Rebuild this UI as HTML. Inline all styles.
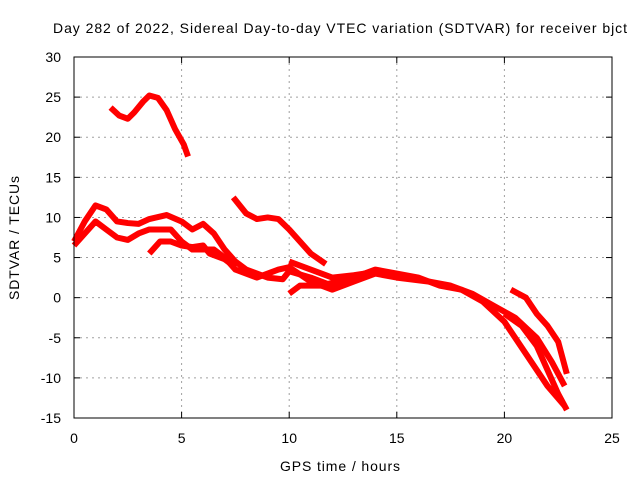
<!DOCTYPE html>
<html><head><meta charset="utf-8"><style>
body{margin:0;background:#fff}
svg text{font-family:"Liberation Sans",sans-serif;font-size:14px;fill:#000}
</style></head><body>
<svg id="chart" width="640" height="480">
<text x="53" y="33" textLength="574" lengthAdjust="spacing">Day 282 of 2022, Sidereal Day-to-day VTEC variation (SDTVAR) for receiver bjct</text>
<text x="340" y="471" text-anchor="middle" textLength="120">GPS time / hours</text>
<text transform="translate(19,238) rotate(-90)" text-anchor="middle" textLength="124">SDTVAR / TECUs</text>
<g id="grid"></g><g id="series"></g><g id="axes"></g>
</svg>
<script>
const xTicks=[0,5,10,15,20,25];
const yTicks=[30,25,20,15,10,5,0,-5,-10,-15];
const arcTrack=[[1.7,23.7],[2.1,22.7],[2.5,22.3],[2.8,23.1],[3.2,24.4],[3.5,25.2],[3.9,24.9],[4.3,23.4],[4.7,21.0],[5.1,19.1],[5.3,17.6]];
const track1=[[0,7],[0.5,9.5],[1,11.5],[1.5,11],[2,9.5],[2.5,9.3],[3,9.2],[3.5,9.8],[4.3,10.3],[5,9.5],[5.5,8.5],[6,9.2],[6.5,8],[7,6],[7.5,4.5],[8,3.5],[9,2.5],[9.7,2.3],[10,3.3],[11,2.5],[12,1.5],[13,2.5],[14,3.5],[15,3],[16,2.5],[17,1.5],[18,1],[19,-0.5],[20,-3],[21,-7],[22,-11],[22.8,-13.5]];
const track2=[[0,6.5],[1,9.5],[1.5,8.5],[2,7.5],[2.5,7.2],[3,8],[3.5,8.5],[4.5,8.5],[5,7],[5.5,6],[6.5,6],[7,5],[7.5,3.5],[8.5,2.5],[9.5,3.5],[10,3.8],[11,2],[12,1],[13,2],[14,3],[15,2.5],[16.5,2],[17.5,1.5],[18.5,0.5],[19.5,-1],[20.5,-2.5],[21.5,-5],[22.2,-8],[22.8,-11]];
const track3=[[3.5,5.5],[4,7],[4.5,7],[5,6.5],[5.5,6.3],[6,6.5],[6.3,5.5],[7,4.8],[7.5,3.8]];
const track4=[[7.4,12.5],[8,10.5],[8.5,9.8],[9,10],[9.5,9.8],[10,8.5],[10.5,7],[11,5.5],[11.7,4.2]];
const track5=[[10,4.5],[11,3.5],[12,2.5],[13,2.8],[14,3.2]];
const track6=[[10,0.5],[10.5,1.5],[11.5,1.5],[12.5,2.2]];
const track7=[[20.3,1],[21,0],[21.5,-2],[22,-3.5],[22.5,-5.5],[22.9,-9.5]];
const track8=[[20,-2],[20.8,-3.5],[21.5,-6],[22,-9],[22.5,-12],[22.9,-14]];
const tracks=[arcTrack,track1,track2,track3,track4,track5,track6,track7,track8];
const X0=74,X1=612,Y0=57,Y1=418;
const sx=h=>X0+(h-0)/(25-0)*(X1-X0);
const sy=v=>Y1-(v+15)/(45)*(Y1-Y0);
const NS="http://www.w3.org/2000/svg";
const grid=document.getElementById('grid'),axes=document.getElementById('axes'),ser=document.getElementById('series');
function mk(tag,attrs,parent){const e=document.createElementNS(NS,tag);for(const k in attrs)e.setAttribute(k,attrs[k]);parent.appendChild(e);return e;}
xTicks.forEach(t=>{
 const x=sx(t);
 if(t>0&&t<25){const g=mk('line',{x1:x,x2:x,y1:Y0,y2:Y1,stroke:'#a0a0a0','stroke-dasharray':'2,4'},grid);
 
 }
 mk('line',{x1:x,x2:x,y1:Y1,y2:Y1-6,stroke:'#000'},axes);mk('line',{x1:x,x2:x,y1:Y0,y2:Y0+6,stroke:'#000'},axes);
 const l=mk('text',{x:x,y:Y1+25,'text-anchor':'middle'},axes);l.textContent=t;
 
 
});
yTicks.forEach(t=>{
 const y=sy(t);
 if(t>-15&&t<30){const g=mk('line',{x1:X0,x2:X1,y1:y,y2:y,stroke:'#a0a0a0','stroke-dasharray':'2,4'},grid);
 
 }
 mk('line',{x1:X0,x2:X0+6,y1:y,y2:y,stroke:'#000'},axes);mk('line',{x1:X1,x2:X1-6,y1:y,y2:y,stroke:'#000'},axes);
 const l=mk('text',{x:X0-13,y:y+5,'text-anchor':'end'},axes);l.textContent=t;
 
 
});
const b=mk('rect',{x:X0,y:Y0,width:X1-X0,height:Y1-Y0,fill:'none',stroke:'#000'},axes);


tracks.forEach((tr,i)=>{
 const p=mk('polyline',{points:tr.map(d=>sx(d[0])+','+sy(d[1])).join(' '),fill:'none',stroke:'#ff0000','stroke-width':6,'stroke-linejoin':'round'},ser);
 
 
});
</script>
</body></html>
